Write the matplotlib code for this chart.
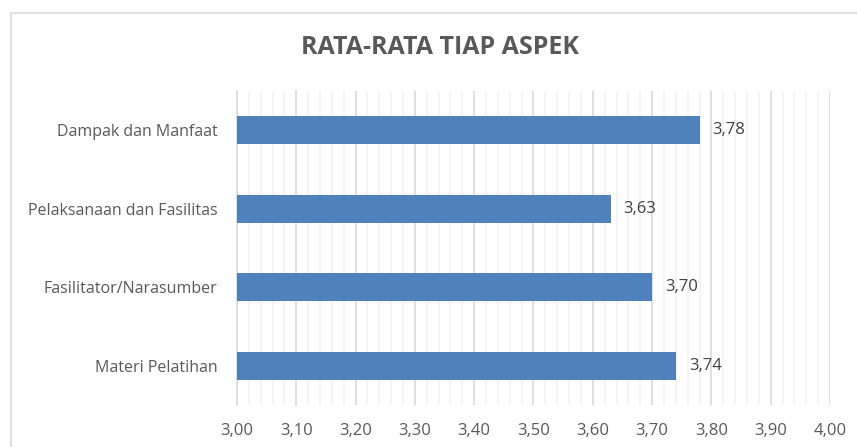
import matplotlib.pyplot as plt
import numpy as np
from matplotlib.patches import Rectangle

plt.rcParams['font.family'] = ['Open Sans', 'DejaVu Sans']

# data
categories = ['Materi Pelatihan', 'Fasilitator/Narasumber',
              'Pelaksanaan dan Fasilitas', 'Dampak dan Manfaat']
values = [3.74, 3.70, 3.63, 3.78]

text_color = '#595959'
bar_color = '#4f81bd'

fig = plt.figure(figsize=(8.57, 4.47), dpi=100)

# outer chart border
fig.patches.append(Rectangle((11 / 857, -0.05), 1.0, 1 - 13 / 447 + 0.05,
                             transform=fig.transFigure, fill=False,
                             edgecolor='#d9d9d9', linewidth=1.2))

ax = fig.add_axes([237 / 857, 1 - 405 / 447, (830 - 237) / 857, (405 - 91) / 447])

y = np.arange(len(categories))
ax.barh(y, [v - 3.0 for v in values], left=3.0, height=0.36,
        color=bar_color, zorder=3)

for yi, v in zip(y, values):
    ax.text(v + 0.022, yi, f'{v:.2f}'.replace('.', ','), va='center', ha='left',
            fontsize=12, color='#404040', zorder=4)

ax.set_xlim(3.0, 4.0)
ax.set_ylim(-0.5, len(categories) - 0.5)
major = np.arange(3.0, 4.001, 0.1)
ax.set_xticks(major)
ax.set_xticklabels([f'{t:.2f}'.replace('.', ',') for t in major])
ax.set_xticks(np.arange(3.0, 4.001, 0.02), minor=True)
ax.set_yticks(y)
ax.set_yticklabels(categories)

ax.grid(True, which='major', axis='x', color='#d9d9d9', linewidth=1.2, zorder=0)
ax.grid(True, which='minor', axis='x', color='#f2f2f2', linewidth=1.2, zorder=0)

for side in ['top', 'right', 'bottom']:
    ax.spines[side].set_visible(False)
ax.spines['left'].set_color('#d9d9d9')
ax.spines['left'].set_linewidth(1.2)

ax.tick_params(axis='both', which='both', length=0, colors=text_color)
ax.tick_params(axis='x', pad=13, labelsize=12)
ax.tick_params(axis='y', pad=14, labelsize=11.5)

fig.text(440 / 857, 1 - 48 / 447, 'RATA-RATA TIAP ASPEK', ha='center', va='center',
         fontsize=18, fontweight='bold', color=text_color)

fig.savefig('out.png', dpi=100)
